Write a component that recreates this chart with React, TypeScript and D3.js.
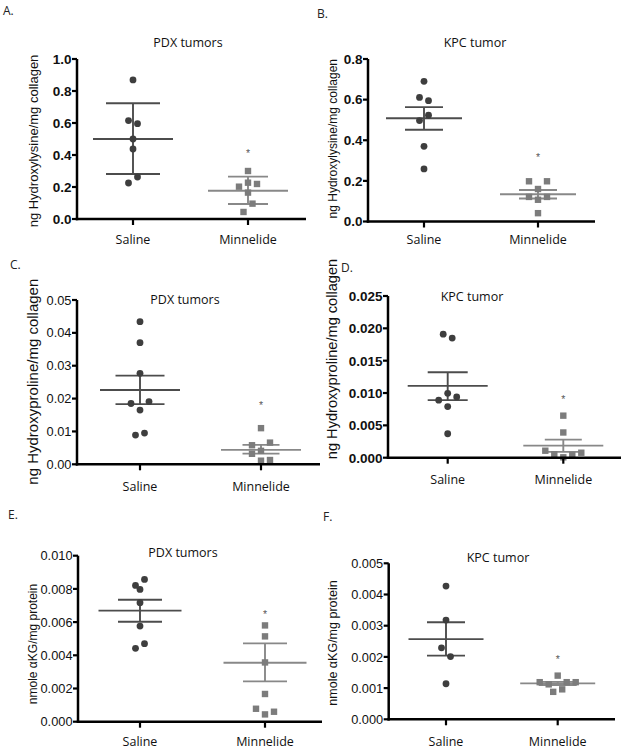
import React from "react";
import * as d3 from "d3";

const groups = ["Saline", "Minnelide"];

// A. PDX tumors, hydroxylysine (mean ± SD)
const aSaline = [0.869, 0.615, 0.596, 0.5, 0.4375, 0.225, 0.2625];
const aMinnelide = [0.3, 0.202, 0.227, 0.219, 0.165, 0.044, 0.096];
const aMeans = [0.5, 0.177];
const aLow = [0.281, 0.094];
const aHigh = [0.723, 0.265];
const aStar = 0.41;
const aTicks = [0, 0.2, 0.4, 0.6, 0.8, 1.0];

// B. KPC tumor, hydroxylysine
const bSaline = [0.69, 0.611, 0.595, 0.497, 0.523, 0.37, 0.259];
const bMinnelide = [0.198, 0.16, 0.198, 0.121, 0.107, 0.121, 0.041];
const bMeans = [0.508, 0.134];
const bLow = [0.452, 0.113];
const bHigh = [0.563, 0.155];
const bStar = 0.32;
const bTicks = [0, 0.2, 0.4, 0.6, 0.8];

// C. PDX tumors, hydroxyproline
const cSaline = [0.0434, 0.037, 0.0277, 0.0185, 0.0165, 0.0191, 0.0089, 0.0095];
const cMinnelide = [0.011, 0.0058, 0.0041, 0.0066, 0.0032, 0.0011, 0.0013];
const cMeans = [0.0226, 0.0044];
const cLow = [0.0183, 0.00325];
const cHigh = [0.027, 0.0059];
const cStar = 0.018;
const cTicks = [0, 0.01, 0.02, 0.03, 0.04, 0.05];

// D. KPC tumor, hydroxyproline
const dSaline = [0.0191, 0.0185, 0.0089, 0.00995, 0.0094, 0.0079, 0.0037];
const dMinnelide = [0.0065, 0.0039, 0.00108, 0.00053, 0.00006, 0.00042, 0.00077];
const dMeans = [0.0111, 0.00186];
const dLow = [0.0089, 0.0009];
const dHigh = [0.0132, 0.0028];
const dStar = 0.0091;
const dTicks = [0, 0.005, 0.01, 0.015, 0.02, 0.025];

// E. PDX tumors, alpha-KG
const eSaline = [0.00821, 0.00797, 0.00857, 0.00717, 0.00576, 0.00442, 0.0047];
const eMinnelide = [0.0058, 0.00514, 0.00357, 0.00167, 0.00078, 0.00044, 0.0006];
const eMeans = [0.00669, 0.00355];
const eLow = [0.00602, 0.00243];
const eHigh = [0.00735, 0.00472];
const eStar = 0.0065;
const eTicks = [0, 0.002, 0.004, 0.006, 0.008, 0.01];

// F. KPC tumor, alpha-KG
const fSaline = [0.00427, 0.00318, 0.00229, 0.00201, 0.00114];
const fMinnelide = [0.00119, 0.00112, 0.0014, 0.00119, 0.00119, 0.00088, 0.00096];
const fMeans = [0.00257, 0.00115];
const fLow = [0.00204, 0.0011];
const fHigh = [0.00311, 0.0012];
const fStar = 0.00194;
const fTicks = [0, 0.001, 0.002, 0.003, 0.004, 0.005];

const panels = [
  { letter: "A.", title: "PDX tumors", yLabel: "ng Hydroxylysine/mg collagen", saline: aSaline, minnelide: aMinnelide, means: aMeans, low: aLow, high: aHigh, star: aStar, ticks: aTicks, fmt: ".1f",
    x0: 77, xEnd: 306, yTop: 59, yZero: 219, cats: [133, 248], titleX: 188, titleY: 47, letterX: 3, letterY: 15, labX: 33, labY: 141, labSize: 13, xLabY: 244, bold: true, meanHalf: 40, capHalf: [27, 20] },
  { letter: "B.", title: "KPC tumor", yLabel: "ng Hydroxylysine/mg collagen", saline: bSaline, minnelide: bMinnelide, means: bMeans, low: bLow, high: bHigh, star: bStar, ticks: bTicks, fmt: ".1f",
    x0: 368, xEnd: 595, yTop: 59, yZero: 221.5, cats: [424, 538], titleX: 475, titleY: 47, letterX: 317, letterY: 18, labX: 333, labY: 138.7, labSize: 12, xLabY: 244, bold: true, meanHalf: 38, capHalf: [19, 19] },
  { letter: "C.", title: "PDX tumors", yLabel: "ng Hydroxyproline/mg collagen", saline: cSaline, minnelide: cMinnelide, means: cMeans, low: cLow, high: cHigh, star: cStar, ticks: cTicks, fmt: ".2f",
    x0: 77, xEnd: 320, yTop: 300, yZero: 464.3, cats: [140, 261], titleX: 185, titleY: 304, letterX: 10, letterY: 269, labX: 33, labY: 381.7, labSize: 15, xLabY: 491, bold: false, meanHalf: 40, capHalf: [24.5, 18.5] },
  { letter: "D.", title: "KPC tumor", yLabel: "ng Hydroxyproline/mg collagen", saline: dSaline, minnelide: dMinnelide, means: dMeans, low: dLow, high: dHigh, star: dStar, ticks: dTicks, fmt: ".3f",
    x0: 388, xEnd: 621, yTop: 296, yZero: 457.7, cats: [447.7, 563.3], titleX: 472, titleY: 301, letterX: 341, letterY: 272, labX: 332, labY: 359, labSize: 14.6, xLabY: 484, bold: true, meanHalf: 40, capHalf: [20, 18.5] },
  { letter: "E.", title: "PDX tumors", yLabel: "nmole \u03b1KG/mg protein", saline: eSaline, minnelide: eMinnelide, means: eMeans, low: eLow, high: eHigh, star: eStar, ticks: eTicks, fmt: ".3f",
    x0: 78, xEnd: 322, yTop: 555.7, yZero: 721.7, cats: [140, 265], titleX: 183, titleY: 557, letterX: 8, letterY: 519, labX: 33, labY: 644, labSize: 12, xLabY: 746, bold: false, meanHalf: 41.5, capHalf: [22, 22] },
  { letter: "F.", title: "KPC tumor", yLabel: "nmole \u03b1KG/mg protein", saline: fSaline, minnelide: fMinnelide, means: fMeans, low: fLow, high: fHigh, star: fStar, ticks: fTicks, fmt: ".3f",
    x0: 388.7, xEnd: 615, yTop: 563.3, yZero: 719.3, cats: [446, 557.7], titleX: 498, titleY: 562, letterX: 323, letterY: 521, labX: 333, labY: 643, labSize: 12.5, xLabY: 746, bold: false, meanHalf: 37.5, capHalf: [19, 19] },
];

const SANS = "'Liberation Sans', Arial, sans-serif";
const OPEN = "'Open Sans', sans-serif";

// group points that sit close in y and spread them sideways (like Prism's scatter)
function spread(values: number[], y: (v: number) => number, step = 9, tol = 9.2) {
  const order = values.map((_, i) => i).sort((a, b) => values[b] - values[a]);
  const off = values.map(() => 0);
  let group: number[] = [];
  let start = 0;
  const flush = () => {
    const g = [...group].sort((a, b) => a - b);
    g.forEach((k, j) => (off[k] = (j - (g.length - 1) / 2) * step));
  };
  order.forEach((i) => {
    const py = y(values[i]);
    if (group.length && Math.abs(py - start) <= tol) group.push(i);
    else {
      if (group.length) flush();
      group = [i];
      start = py;
    }
  });
  if (group.length) flush();
  return off;
}

function Panel({ p }: { p: any }) {
  const y = d3.scaleLinear().domain([0, p.ticks[p.ticks.length - 1]]).range([p.yZero, p.yTop]);
  const x = d3.scalePoint().domain(groups).range(p.cats).padding(0);
  const fmt = d3.format(p.fmt);
  const sx = x("Saline")!;
  const mx = x("Minnelide")!;
  const sOff = spread(p.saline, y);
  const mOff = spread(p.minnelide, y);
  const lineCol = ["#4c4c4c", "#888888"];

  return (
    <g>
      <text x={p.letterX} y={p.letterY} fontFamily={OPEN} fontSize={12} fill="#222">{p.letter}</text>
      <text x={p.titleX} y={p.titleY} fontFamily={OPEN} fontSize={12.5} textAnchor="middle" fill="#111">{p.title}</text>
      <text
        x={p.labX}
        y={p.labY}
        transform={`rotate(-90, ${p.labX}, ${p.labY})`}
        textAnchor="middle"
        dominantBaseline="central"
        fontFamily={SANS}
        fontSize={p.labSize}
        fill="#111"
      >
        {p.yLabel}
      </text>

      {/* error bars */}
      {groups.map((g, gi) => {
        const cx = x(g)!;
        const col = lineCol[gi];
        return (
          <g key={g} stroke={col} strokeWidth={1.9}>
            <line x1={cx} x2={cx} y1={y(p.low[gi])} y2={y(p.high[gi])} />
            <line x1={cx - p.meanHalf} x2={cx + p.meanHalf} y1={y(p.means[gi])} y2={y(p.means[gi])} />
            <line x1={cx - p.capHalf[gi]} x2={cx + p.capHalf[gi]} y1={y(p.low[gi])} y2={y(p.low[gi])} />
            <line x1={cx - p.capHalf[gi]} x2={cx + p.capHalf[gi]} y1={y(p.high[gi])} y2={y(p.high[gi])} />
          </g>
        );
      })}

      {p.saline.map((v: number, i: number) => (
        <circle key={"s" + i} cx={sx + sOff[i]} cy={y(v)} r={3.4} fill="#3e3e3e" />
      ))}
      {p.minnelide.map((v: number, i: number) => (
        <rect key={"m" + i} x={mx + mOff[i] - 3.2} y={y(v) - 3.2} width={6.4} height={6.4} fill="#7c7c7c" />
      ))}
      <text x={mx} y={y(p.star) + 4} textAnchor="middle" fontFamily={SANS} fontSize={10.5} fill="#5a5a5a">*</text>

      {/* axes */}
      <line x1={p.x0} x2={p.x0} y1={p.yTop} y2={p.yZero + 1.25} stroke="#000" strokeWidth={2.5} />
      <line x1={p.x0 - 1.25} x2={p.xEnd} y1={p.yZero} y2={p.yZero} stroke="#000" strokeWidth={2.5} />
      {p.ticks.map((t: number) => (
        <g key={t}>
          <line x1={p.x0 - 5} x2={p.x0} y1={y(t)} y2={y(t)} stroke="#000" strokeWidth={2.2} />
          <text
            x={p.x0 - 5.5}
            y={y(t)}
            dy="0.36em"
            textAnchor="end"
            fontFamily={SANS}
            fontSize={p.bold ? 13.5 : 12.8}
            fontWeight={p.bold ? "bold" : "normal"}
            fill="#111"
          >
            {fmt(t)}
          </text>
        </g>
      ))}
      {groups.map((g) => (
        <g key={g}>
          <line x1={x(g)!} x2={x(g)!} y1={p.yZero} y2={p.yZero + 6} stroke="#000" strokeWidth={2.2} />
          <text x={x(g)!} y={p.xLabY} textAnchor="middle" fontFamily={OPEN} fontSize={12.5} fill="#111">{g}</text>
        </g>
      ))}
    </g>
  );
}

export default function App() {
  return (
    <svg width={625} height={750} style={{ position: "absolute", left: 0, top: 0, background: "#fff" }}>
      {panels.map((p) => (
        <Panel key={p.letter} p={p} />
      ))}
    </svg>
  );
}
